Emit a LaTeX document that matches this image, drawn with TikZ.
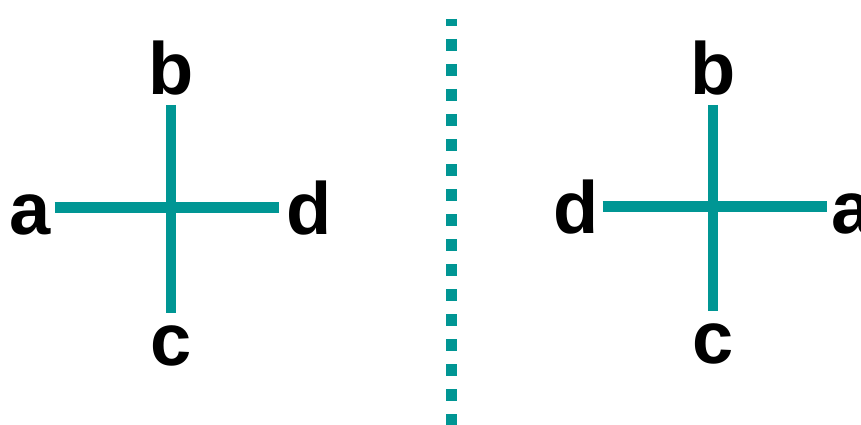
\documentclass[tikz,border=0pt]{standalone}
\usepackage{fontspec}
\setmainfont{Liberation Sans}
\usetikzlibrary{calc}
\definecolor{crossteal}{RGB}{0,150,148}
\tikzset{
  lbl/.style={anchor=base, inner sep=0pt, outer sep=0pt, text height=53pt, text depth=0pt, font=\fontsize{74}{80}\selectfont\bfseries},
  arm/.style={line width=10.5pt, draw=crossteal},
  divider/.style={line width=11pt, draw=crossteal, dash pattern=on 12pt off 13pt, dash phase=5pt}
}
\begin{document}
\begin{tikzpicture}[x=1pt, y=-1pt]
\useasboundingbox (0,0) rectangle (861,425);
\node[lbl] (la) at (30,234) {a};
\node[lbl] (lb) at (171,95) {b};
\node[lbl] (lc) at (171,365) {c};
\node[lbl] (ld) at (309,234) {d};
\node[lbl] (rd) at (576,233) {d};
\node[lbl] (rb) at (713,95) {b};
\node[lbl] (rc) at (713,363) {c};
\node[lbl] (ra) at (852,233) {a};
\coordinate (divtop) at (451,19);
\coordinate (divbot) at (451,430);
\draw[arm, shorten <=10pt, shorten >=-1pt] (lb) -- (lc);
\draw[arm, shorten <=4pt, shorten >=7pt] (la) -- (ld);
\draw[arm, shorten <=10pt, shorten >=-1pt] (rb) -- (rc);
\draw[arm, shorten <=4pt, shorten >=4pt] (rd) -- (ra);
\draw[divider] (divtop) -- (divbot);
\end{tikzpicture}
\end{document}
